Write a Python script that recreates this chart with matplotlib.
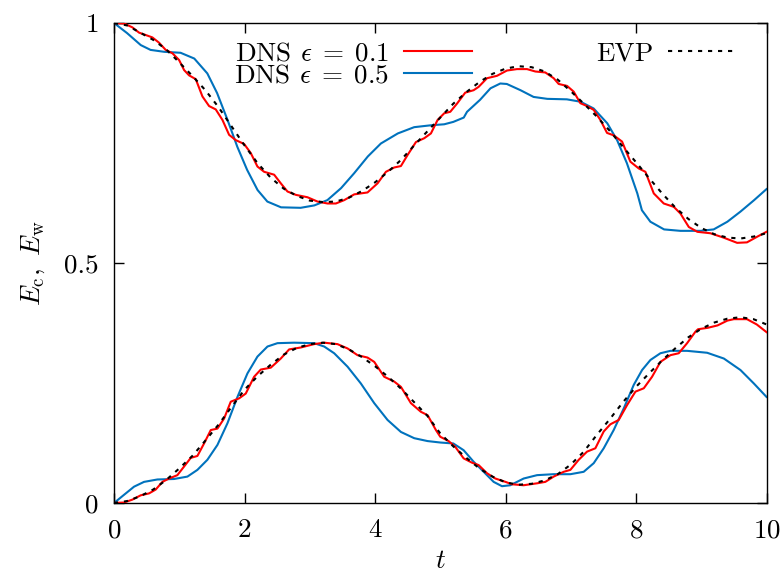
import numpy as np
import matplotlib
matplotlib.use("Agg")
import matplotlib.pyplot as plt

# ----------------------------------
# Data
# ----------------------------------
# upper branch (E_c)
t_evp_top = [0.0, 0.2, 0.4, 0.6, 0.8, 1.0, 1.2, 1.4, 1.6, 1.8, 2.0, 2.2, 2.4, 2.6, 2.8,
             3.0, 3.2, 3.4, 3.6, 3.8, 4.0, 4.2, 4.4, 4.6, 4.8, 5.0, 5.2, 5.4, 5.6, 5.8,
             6.0, 6.2, 6.4, 6.6, 6.8, 7.0, 7.2, 7.4, 7.6, 7.8, 8.0, 8.2, 8.4, 8.6, 8.8,
             9.0, 9.2, 9.4, 9.6, 9.8, 10.0]
E_evp_top = [1.0, 0.995, 0.98, 0.965, 0.945, 0.918, 0.89, 0.86, 0.825, 0.785, 0.745, 0.708,
             0.678, 0.655, 0.640, 0.630, 0.627, 0.628, 0.636, 0.650, 0.668, 0.690, 0.715,
             0.745, 0.774, 0.803, 0.832, 0.856, 0.877, 0.894, 0.905, 0.910, 0.908, 0.899,
             0.882, 0.858, 0.832, 0.805, 0.775, 0.742, 0.710, 0.677, 0.645, 0.616, 0.592,
             0.573, 0.560, 0.553, 0.551, 0.555, 0.562]

t_d1_top = [0.0, 0.153, 0.281, 0.383, 0.486, 0.588, 0.690, 0.792, 0.895, 0.997, 1.074, 1.150,
            1.253, 1.355, 1.457, 1.559, 1.662, 1.764, 1.866, 1.994, 2.096, 2.198, 2.301,
            2.454, 2.556, 2.658, 2.786, 2.965, 3.119, 3.272, 3.400, 3.528, 3.681, 3.885,
            4.039, 4.167, 4.294, 4.397, 4.499, 4.627, 4.755, 4.857, 4.959, 5.061, 5.153,
            5.256, 5.383, 5.511, 5.588, 5.716, 5.869, 6.022, 6.176, 6.329, 6.457, 6.610,
            6.738, 6.815, 6.943, 7.045, 7.147, 7.249, 7.352, 7.454, 7.556, 7.658, 7.786,
            7.914, 8.042, 8.144, 8.272, 8.425, 8.579, 8.681, 8.809, 8.94, 9.14, 9.34,
            9.55, 9.70, 9.86, 10.0]
E_d1_top = [1.0, 0.999, 0.991, 0.980, 0.975, 0.970, 0.959, 0.944, 0.937, 0.923, 0.902, 0.891,
            0.883, 0.847, 0.827, 0.820, 0.798, 0.767, 0.756, 0.748, 0.729, 0.701, 0.690,
            0.684, 0.666, 0.649, 0.642, 0.637, 0.628, 0.624, 0.624, 0.631, 0.643, 0.647,
            0.666, 0.690, 0.699, 0.702, 0.725, 0.752, 0.760, 0.770, 0.798, 0.812, 0.815,
            0.832, 0.855, 0.860, 0.867, 0.885, 0.890, 0.901, 0.904, 0.904, 0.899, 0.897,
            0.885, 0.873, 0.869, 0.857, 0.833, 0.827, 0.819, 0.798, 0.771, 0.766, 0.753,
            0.711, 0.697, 0.690, 0.645, 0.624, 0.617, 0.603, 0.575, 0.565, 0.562, 0.553,
            0.542, 0.543, 0.555, 0.565]

t_d5_top = [0.0, 0.2, 0.41, 0.56, 0.77, 1.02, 1.23, 1.43, 1.58, 1.74, 1.89, 2.04, 2.2, 2.35,
            2.56, 2.86, 3.07, 3.27, 3.48, 3.68, 3.89, 4.09, 4.35, 4.6, 4.86, 5.06, 5.2,
            5.36, 5.41, 5.61, 5.77, 5.92, 6.02, 6.23, 6.43, 6.64, 6.94, 7.15, 7.35, 7.56,
            7.71, 7.86, 8.02, 8.09, 8.22, 8.43, 8.68, 8.99, 9.19, 9.4, 9.6, 9.81, 10.0]
E_d5_top = [1.0, 0.979, 0.954, 0.944, 0.940, 0.938, 0.926, 0.895, 0.854, 0.798, 0.742, 0.694,
            0.652, 0.628, 0.616, 0.615, 0.620, 0.631, 0.656, 0.687, 0.722, 0.749, 0.770,
            0.783, 0.787, 0.789, 0.794, 0.803, 0.815, 0.840, 0.864, 0.874, 0.873, 0.860,
            0.846, 0.842, 0.841, 0.836, 0.822, 0.791, 0.756, 0.708, 0.645, 0.610, 0.586,
            0.570, 0.567, 0.567, 0.570, 0.586, 0.607, 0.631, 0.654]

# lower branch (E_w)
t_evp_bot = t_evp_top
E_evp_bot = [0.0, 0.004, 0.014, 0.028, 0.048, 0.072, 0.098, 0.130, 0.163, 0.200, 0.236,
             0.264, 0.288, 0.309, 0.323, 0.331, 0.334, 0.331, 0.320, 0.304, 0.285, 0.263,
             0.238, 0.210, 0.182, 0.145, 0.118, 0.094, 0.072, 0.055, 0.043, 0.038, 0.040,
             0.047, 0.060, 0.080, 0.107, 0.142, 0.175, 0.210, 0.242, 0.270, 0.297, 0.322,
             0.345, 0.363, 0.376, 0.384, 0.387, 0.383, 0.372]

t_d1_bot = [0.0, 0.153, 0.281, 0.409, 0.537, 0.639, 0.741, 0.844, 0.971, 1.074, 1.176, 1.278,
            1.380, 1.483, 1.585, 1.687, 1.789, 1.917, 2.019, 2.147, 2.249, 2.403, 2.556,
            2.684, 2.863, 3.067, 3.221, 3.425, 3.579, 3.732, 3.885, 3.988, 4.141, 4.294,
            4.397, 4.550, 4.703, 4.806, 4.933, 5.0, 5.128, 5.23, 5.358, 5.486, 5.588, 5.716,
            5.844, 6.0, 6.099, 6.278, 6.483, 6.61, 6.738, 6.892, 6.994, 7.122, 7.249, 7.377,
            7.505, 7.607, 7.735, 7.863, 7.991, 8.119, 8.246, 8.374, 8.528, 8.655, 8.783,
            8.911, 8.95, 9.1, 9.25, 9.4, 9.5, 9.7, 9.85, 10.0]
E_d1_bot = [0.0, 0.001, 0.007, 0.016, 0.020, 0.028, 0.044, 0.051, 0.058, 0.076, 0.094, 0.098,
            0.124, 0.152, 0.155, 0.176, 0.211, 0.218, 0.228, 0.263, 0.278, 0.282, 0.301,
            0.320, 0.324, 0.331, 0.334, 0.331, 0.322, 0.308, 0.303, 0.294, 0.263, 0.253,
            0.242, 0.208, 0.190, 0.183, 0.152, 0.138, 0.129, 0.117, 0.093, 0.084, 0.079,
            0.062, 0.051, 0.044, 0.039, 0.037, 0.041, 0.044, 0.055, 0.065, 0.069, 0.090,
            0.107, 0.114, 0.149, 0.164, 0.173, 0.204, 0.232, 0.239, 0.263, 0.294, 0.308,
            0.312, 0.333, 0.357, 0.362, 0.365, 0.370, 0.380, 0.383, 0.383, 0.372, 0.356]

t_d5_bot = [0.0, 0.153, 0.307, 0.46, 0.665, 0.92, 1.125, 1.278, 1.431, 1.585, 1.738, 1.892,
            2.045, 2.198, 2.352, 2.505, 2.761, 3.067, 3.221, 3.374, 3.579, 3.783, 3.988,
            4.192, 4.397, 4.601, 4.806, 5.0, 5.2, 5.358, 5.511, 5.665, 5.818, 5.946, 6.074,
            6.278, 6.483, 6.738, 6.994, 7.198, 7.352, 7.505, 7.658, 7.812, 7.965, 8.093,
            8.221, 8.374, 8.528, 8.783, 9.09, 9.346, 9.601, 9.806, 10.0]
E_d5_bot = [0.0, 0.017, 0.034, 0.044, 0.049, 0.050, 0.055, 0.069, 0.090, 0.121, 0.166, 0.221,
            0.270, 0.305, 0.326, 0.333, 0.334, 0.333, 0.326, 0.312, 0.284, 0.249, 0.208,
            0.173, 0.148, 0.135, 0.129, 0.126, 0.124, 0.110, 0.086, 0.065, 0.044, 0.035,
            0.037, 0.051, 0.058, 0.060, 0.060, 0.065, 0.083, 0.114, 0.152, 0.197, 0.246,
            0.277, 0.298, 0.312, 0.317, 0.317, 0.313, 0.301, 0.277, 0.249, 0.221]

# ----------------------------------
# Style
# ----------------------------------
plt.rcParams['font.family'] = 'serif'
plt.rcParams['font.serif'] = ['cmr10', 'DejaVu Serif']
plt.rcParams['mathtext.fontset'] = 'cm'
plt.rcParams['axes.formatter.use_mathtext'] = True
plt.rcParams['font.size'] = 19.5

red = '#ff0000'
blue = '#0072bd'
dots = (0, (2.0, 2.8))

fig = plt.figure(figsize=(7.82, 5.74), dpi=100)
ax = fig.add_axes([0.1458, 0.1237, 0.8344, 0.8362])

l1, = ax.plot(t_d1_top, E_d1_top, color=red, lw=1.5, zorder=3)
ax.plot(t_d1_bot, E_d1_bot, color=red, lw=1.5, zorder=3)
l2, = ax.plot(t_d5_top, E_d5_top, color=blue, lw=1.5, zorder=2)
ax.plot(t_d5_bot, E_d5_bot, color=blue, lw=1.5, zorder=2)
l3, = ax.plot(t_evp_top, E_evp_top, color='black', lw=1.5, linestyle=dots, zorder=4)
ax.plot(t_evp_bot, E_evp_bot, color='black', lw=1.5, linestyle=dots, zorder=4)

ax.set_xlim(0, 10)
ax.set_ylim(0, 1)
ax.set_xticks([0, 2, 4, 6, 8, 10])
ax.set_yticks([0, 0.5, 1])
ax.set_yticklabels(['0', '0.5', '1'])
ax.tick_params(direction='in', top=True, right=True, length=7, width=1, pad=11)
for s in ax.spines.values():
    s.set_linewidth(1.0)

ax.set_xlabel(r'$t$', labelpad=5)
ax.set_ylabel(r'$E_\mathrm{c},\ E_\mathrm{w}$', labelpad=12)

ax.legend([l1, l2, l3],
          [r'DNS $\epsilon\;=\;0.1$', r'DNS $\epsilon\;=\;0.5$', 'EVP'],
          ncol=2, markerfirst=False, frameon=False,
          loc='upper left', bbox_to_anchor=(0.163, 0.99),
          handlelength=2.5, handletextpad=0.55, columnspacing=4.6,
          labelspacing=-0.08, borderpad=0.0)

fig.savefig('out.png', dpi=100)
